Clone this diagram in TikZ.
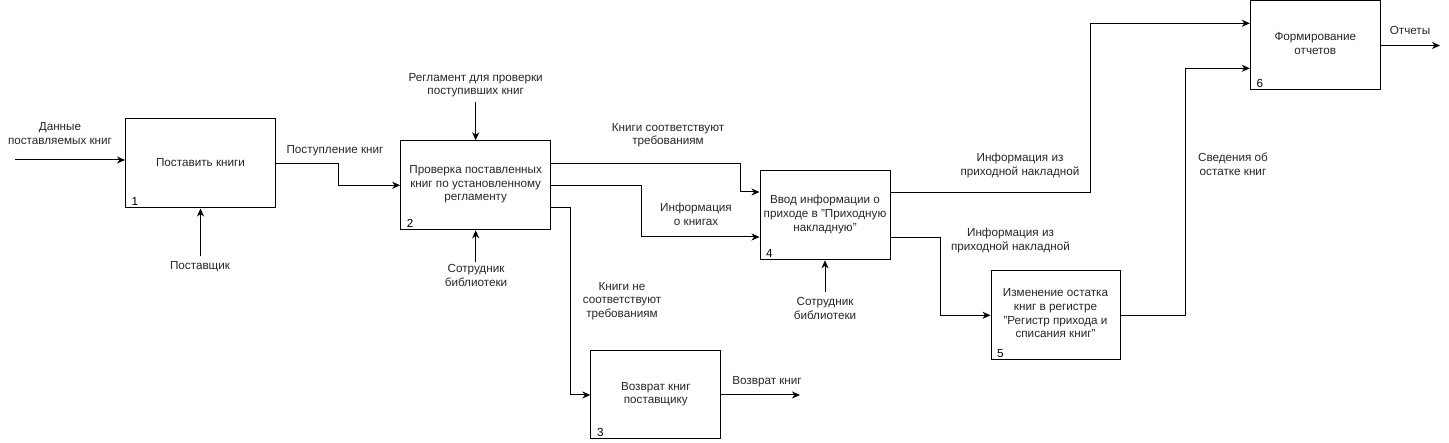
\documentclass[tikz,border=0pt]{standalone}
\usepackage{fontspec}
\setmainfont{Liberation Sans}
\usetikzlibrary{arrows.meta,calc}
\begin{document}
\begin{tikzpicture}[x=1pt,y=-1pt,
  txt/.style={inner sep=0pt, align=center, font=\fontsize{11.7}{13.7}\selectfont,
    execute at begin node=\strut, execute at end node=\strut},
  lbl/.style={txt, text=black!85},
  proc/.style={txt, draw, line width=1pt, text=black!85},
  num/.style={inner sep=0pt, anchor=base west, font=\fontsize{11.7}{13.7}\selectfont},
  arr/.style={line width=1pt, -{Stealth[length=8pt,width=7pt,inset=2.5pt]}},
  ln/.style={line width=1pt}]
\useasboundingbox (0,0) rectangle (1449,443);
% boxes
\node[proc, minimum width=150, minimum height=89] (b1) at (200.5,163.5) {Поставить книги};
\node[proc, minimum width=150, minimum height=89] (b2) at (475.7,185.3) {Проверка поставленных\\книг по установленному\\регламенту};
\node[proc, minimum width=130, minimum height=88] (b3) at (655.8,395) {Возврат книг\\поставщику};
\node[proc, minimum width=130, minimum height=89] (b4) at (825,215.3) {Ввод информации о\\приходе в "Приходную\\накладную"};
\node[proc, minimum width=129, minimum height=89] (b5) at (1055.5,315.3) {Изменение остатка\\книг в регистре\\"Регистр прихода и\\списания книг"};
\node[proc, minimum width=130, minimum height=89] (b6) at (1315.3,45.5) {Формирование\\отчетов};
% numbers
\node[num] (n1) at ($(b1.south west)+(6.5,-3)$) {1};
\node[num] (n2) at ($(b2.south west)+(6.5,-3)$) {2};
\node[num] (n3) at ($(b3.south west)+(6.5,-3)$) {3};
\node[num] (n4) at ($(b4.south west)+(6.5,-3)$) {4};
\node[num] (n5) at ($(b5.south west)+(6.5,-3)$) {5};
\node[num] (n6) at ($(b6.south west)+(6.5,-3)$) {6};
% free ends and bends
\coordinate (in1) at (15,160);
\coordinate (c1) at ($(b1.south)+(0,48)$);
\coordinate (c2t) at (475.7,101.7);
\coordinate (c2b) at ($(b2.south)+(0,32)$);
\coordinate (c4b) at ($(b4.south)+(0,32)$);
\coordinate (j12) at (338,164);
\coordinate (j24a) at (740,164);
\coordinate (j24b) at (641,186);
\coordinate (j23) at (570.7,207.5);
\coordinate (out3) at (800,395);
\coordinate (j46) at (1090.7,192.5);
\coordinate (j45) at (940.7,237.7);
\coordinate (j56) at (1185.7,315.3);
\coordinate (out6) at (1440,45.5);
% connectors
\draw[arr] (in1) -- (in1 -| b1.west);
\draw[arr] (c1) -- (b1.south);
\draw[arr] (b1.east |- j12) -- (j12) |- (b2.west);
\draw[arr] (c2t) -- (b2.north);
\draw[arr] (c2b) -- (b2.south);
\draw[arr] (b2.east |- j24a) -- (j24a) |- ($(b4.west)+(0,-23.3)$);
\draw[arr] (b2.east |- j24b) -- (j24b) |- ($(b4.west)+(0,21.7)$);
\draw[arr] (b2.east |- j23) -- (j23) |- (b3.west);
\draw[arr] (b3.east) -- (out3);
\draw[arr] (c4b) -- (b4.south);
\draw[arr] (b4.east |- j46) -- (j46) |- ($(b6.west)+(0,-22.2)$);
\draw[arr] (b4.east |- j45) -- (j45) |- (b5.west);
\draw[arr] (b5.east) -- (j56) |- ($(b6.west)+(0,22.8)$);
\draw[arr] (b6.east) -- (out6);
% labels
\node[lbl] (l1) at (60,135.5) {Данные\\поставляемых книг};
\node[lbl] (l2) at (335,151) {Поступление книг};
\node[lbl] (l3) at (200,267) {Поставщик};
\node[lbl] (l4) at (475.7,86) {Регламент для проверки\\поступивших книг};
\node[lbl] (l5) at (476,277.5) {Сотрудник\\библиотеки};
\node[lbl] (l6) at (668,136) {Книги соответствуют\\требованиям};
\node[lbl] (l7) at (696,216.5) {Информация\\о книгах};
\node[lbl] (l8) at (622,302) {Книги не\\соответствуют\\требованиям};
\node[lbl] (l9) at (767,382) {Возврат книг};
\node[lbl] (l10) at (825,310.5) {Сотрудник\\библиотеки};
\node[lbl] (l11) at (1020,166.5) {Информация из\\приходной накладной};
\node[lbl] (l12) at (1010.5,241) {Информация из\\приходной накладной};
\node[lbl] (l13) at (1233,166) {Сведения об\\остатке книг};
\node[lbl] (l14) at (1410,31.7) {Отчеты};
\end{tikzpicture}
\end{document}
